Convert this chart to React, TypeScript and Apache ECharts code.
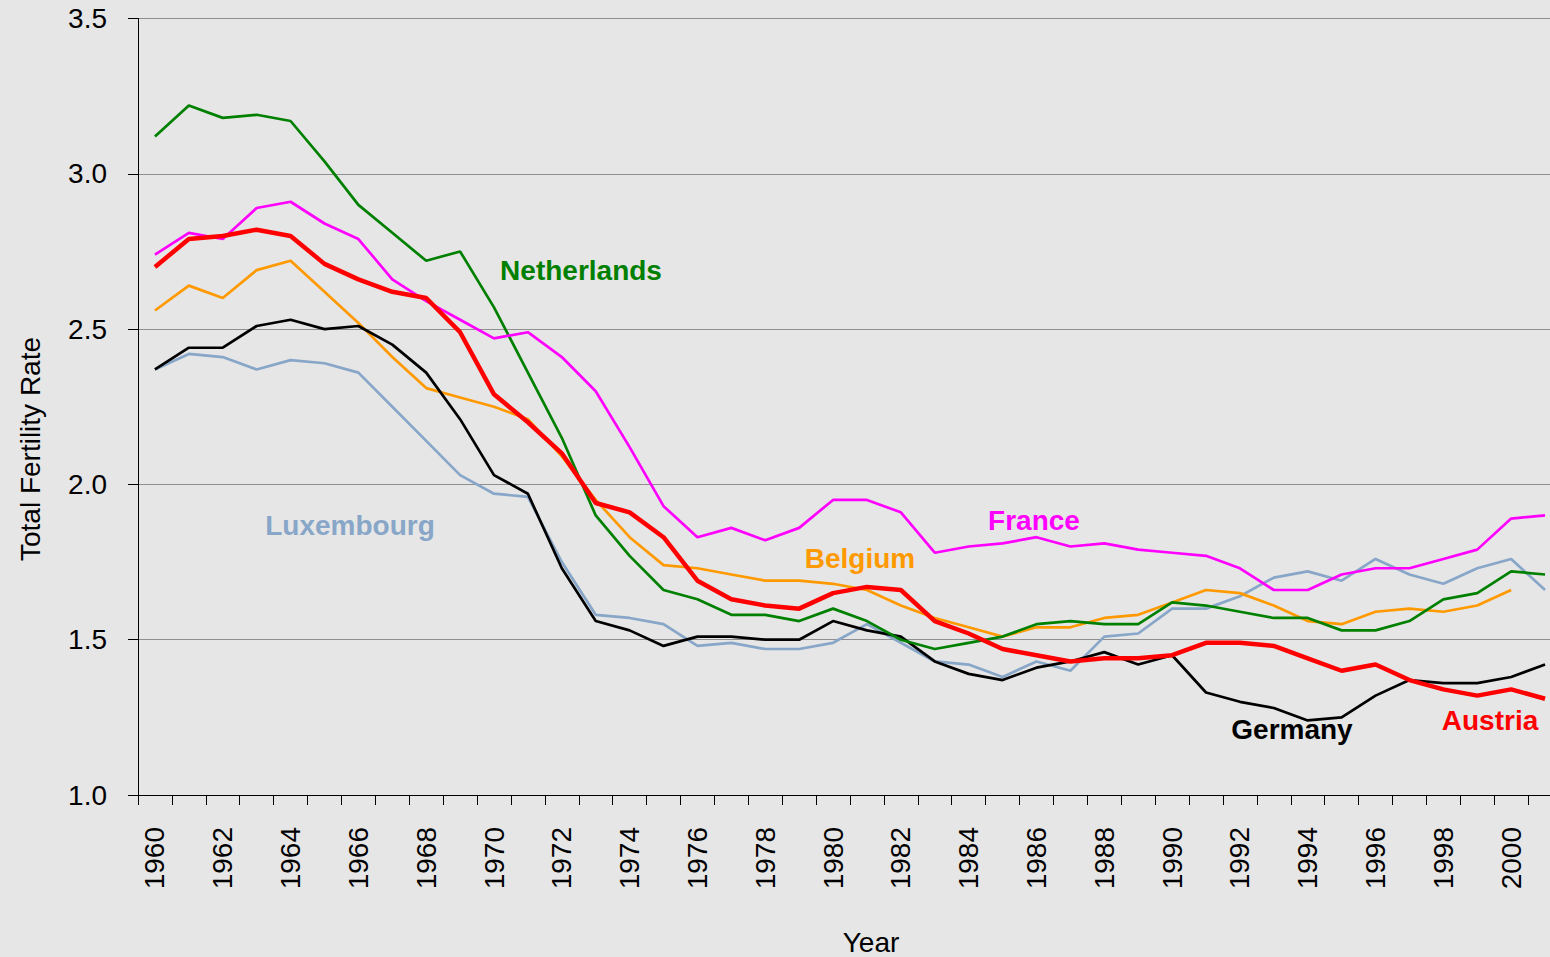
import React, { useEffect, useRef } from "react";
import * as echarts from "echarts";

const years: string[] = [];
for (let y = 1960; y <= 2001; y++) years.push(String(y));

const netherlands = [3.12, 3.22, 3.18, 3.19, 3.17, 3.04, 2.90, 2.81, 2.72, 2.75, 2.57, 2.36, 2.15, 1.90, 1.77, 1.66, 1.63, 1.58, 1.58, 1.56, 1.60, 1.56, 1.50, 1.47, 1.49, 1.51, 1.55, 1.56, 1.55, 1.55, 1.62, 1.61, 1.59, 1.57, 1.57, 1.53, 1.53, 1.56, 1.63, 1.65, 1.72, 1.71];
const france = [2.74, 2.81, 2.79, 2.89, 2.91, 2.84, 2.79, 2.66, 2.59, 2.53, 2.47, 2.49, 2.41, 2.30, 2.12, 1.93, 1.83, 1.86, 1.82, 1.86, 1.95, 1.95, 1.91, 1.78, 1.80, 1.81, 1.83, 1.80, 1.81, 1.79, 1.78, 1.77, 1.73, 1.66, 1.66, 1.71, 1.73, 1.73, 1.76, 1.79, 1.89, 1.90];
const belgium: (number | null)[] = [2.56, 2.64, 2.60, 2.69, 2.72, 2.62, 2.52, 2.41, 2.31, 2.28, 2.25, 2.21, 2.09, 1.95, 1.83, 1.74, 1.73, 1.71, 1.69, 1.69, 1.68, 1.66, 1.61, 1.57, 1.54, 1.51, 1.54, 1.54, 1.57, 1.58, 1.62, 1.66, 1.65, 1.61, 1.56, 1.55, 1.59, 1.60, 1.59, 1.61, 1.66, null];
const germany = [2.37, 2.44, 2.44, 2.51, 2.53, 2.50, 2.51, 2.45, 2.36, 2.21, 2.03, 1.97, 1.73, 1.56, 1.53, 1.48, 1.51, 1.51, 1.50, 1.50, 1.56, 1.53, 1.51, 1.43, 1.39, 1.37, 1.41, 1.43, 1.46, 1.42, 1.45, 1.33, 1.30, 1.28, 1.24, 1.25, 1.32, 1.37, 1.36, 1.36, 1.38, 1.42];
const luxembourg = [2.37, 2.42, 2.41, 2.37, 2.40, 2.39, 2.36, 2.25, 2.14, 2.03, 1.97, 1.96, 1.75, 1.58, 1.57, 1.55, 1.48, 1.49, 1.47, 1.47, 1.49, 1.55, 1.49, 1.43, 1.42, 1.38, 1.43, 1.40, 1.51, 1.52, 1.60, 1.60, 1.64, 1.70, 1.72, 1.69, 1.76, 1.71, 1.68, 1.73, 1.76, 1.66];
const austria = [2.70, 2.79, 2.80, 2.82, 2.80, 2.71, 2.66, 2.62, 2.60, 2.49, 2.29, 2.20, 2.10, 1.94, 1.91, 1.83, 1.69, 1.63, 1.61, 1.60, 1.65, 1.67, 1.66, 1.56, 1.52, 1.47, 1.45, 1.43, 1.44, 1.44, 1.45, 1.49, 1.49, 1.48, 1.44, 1.40, 1.42, 1.37, 1.34, 1.32, 1.34, 1.31];

const FONT = "'Liberation Sans', Arial, Helvetica, sans-serif";

export default function App() {
  const ref = useRef<HTMLDivElement>(null);
  useEffect(() => {
    document.body.style.margin = "0";
    if (!ref.current) return;
    const chart = echarts.init(ref.current, null, { renderer: "svg" });
    const mk = (name: string, data: (number | null)[], color: string, width: number) => ({
      name,
      type: "line",
      data,
      symbol: "none",
      smooth: false,
      lineStyle: { color, width },
      itemStyle: { color },
    });
    const lbl = (text: string, x: number, y: number, color: string) => ({
      type: "text",
      x,
      y,
      style: {
        text,
        fill: color,
        font: `bold 28px ${FONT}`,
        textAlign: "center",
        textVerticalAlign: "middle",
      },
    });
    chart.setOption({
      animation: false,
      backgroundColor: "#e6e6e6",
      grid: { left: 138, top: 18.5, bottom: 162, right: 0, containLabel: false },
      xAxis: {
        type: "category",
        data: years,
        boundaryGap: true,
        axisLine: { show: true, lineStyle: { color: "#000", width: 1 } },
        axisTick: { show: true, interval: 0, length: 10, inside: false, lineStyle: { color: "#000" } },
        axisLabel: {
          interval: 1,
          rotate: 90,
          margin: 32,
          fontSize: 28,
          color: "#000",
          fontFamily: FONT,
        },
        splitLine: { show: false },
      },
      yAxis: {
        type: "value",
        min: 1,
        max: 3.5,
        interval: 0.5,
        axisLine: { show: true, lineStyle: { color: "#000", width: 1 } },
        axisTick: { show: true, length: 10, lineStyle: { color: "#000" } },
        axisLabel: {
          margin: 31,
          fontSize: 28,
          color: "#000",
          fontFamily: FONT,
          formatter: (v: number) => v.toFixed(1),
        },
        splitLine: { show: true, lineStyle: { color: "#8f8f8f", width: 1 } },
      },
      series: [
        mk("Luxembourg", luxembourg, "#88a6c8", 2.7),
        mk("Belgium", belgium, "#ff9900", 2.7),
        mk("Germany", germany, "#000000", 2.7),
        mk("Netherlands", netherlands, "#008000", 2.7),
        mk("France", france, "#ff00ff", 2.7),
        mk("Austria", austria, "#ff0000", 4.5),
      ],
      graphic: [
        {
          type: "text",
          x: 30,
          y: 449,
          rotation: Math.PI / 2,
          style: {
            text: "Total Fertility Rate",
            fill: "#000",
            font: `28px ${FONT}`,
            textAlign: "center",
            textVerticalAlign: "middle",
          },
        },
        {
          type: "text",
          x: 871,
          y: 942,
          style: {
            text: "Year",
            fill: "#000",
            font: `28px ${FONT}`,
            textAlign: "center",
            textVerticalAlign: "middle",
          },
        },
        lbl("Netherlands", 581, 270, "#008000"),
        lbl("Luxembourg", 350, 525, "#88a6c8"),
        lbl("France", 1034, 520, "#ff00ff"),
        lbl("Belgium", 860, 558, "#ff9900"),
        lbl("Germany", 1292, 729, "#000000"),
        lbl("Austria", 1490, 720, "#ff0000"),
      ],
    });
    return () => chart.dispose();
  }, []);
  return (
    <div style={{ width: 1550, height: 957, overflow: "hidden", position: "relative" }}>
      <div ref={ref} style={{ width: 1562, height: 957 }} />
    </div>
  );
}
